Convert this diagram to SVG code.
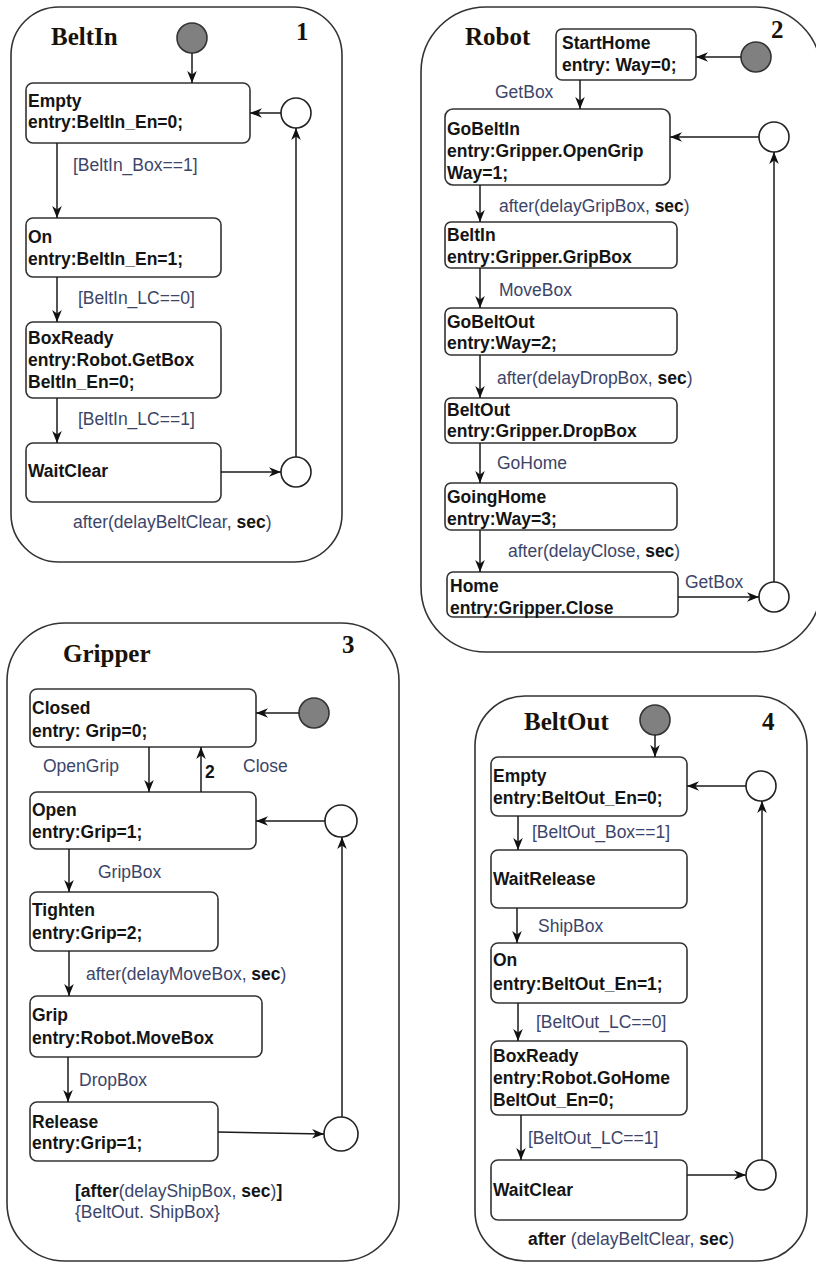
<svg xmlns="http://www.w3.org/2000/svg" width="816" height="1264" viewBox="0 0 816 1264">
<style>
.panel{fill:#fff;stroke:#333;stroke-width:1.6}
.st{fill:#fff;stroke:#333;stroke-width:1.6}
.init{fill:#808080;stroke:#333;stroke-width:1.6}
.junc{fill:#fff;stroke:#222;stroke-width:1.6}
.title{font-family:"Liberation Serif",serif;font-weight:bold;font-size:25px;fill:#1a1208}
.s{font-family:"Liberation Sans",Arial,sans-serif;font-weight:bold;font-size:17.5px;fill:#141414}
.l{font-family:"Liberation Sans",Arial,sans-serif;font-size:17.5px;fill:#3c4569}
.b{font-weight:bold;fill:#141414}
.c{fill:none;stroke:#1a1a1a;stroke-width:1.5;marker-end:url(#a)}
</style>
<defs>
<marker id="a" viewBox="0 0 10 10" refX="10" refY="5" markerWidth="12" markerHeight="12" markerUnits="userSpaceOnUse" orient="auto">
<path d="M0,1 L10,5 L0,9 L3,5 z" fill="#111"/>
</marker>
</defs>

<g id="panel-beltin">
<rect class="panel" x="11" y="7" width="331" height="555" rx="48"/>
<text class="title" x="51" y="45">BeltIn</text>
<text class="title" x="296" y="40">1</text>
<circle class="init" cx="192" cy="38" r="15"/>
<circle class="junc" cx="296" cy="113" r="15"/>
<circle class="junc" cx="296" cy="472" r="15"/>
</g>
<g id="beltin-empty"><rect class="st" x="26" y="83" width="224" height="60" rx="7"/><text class="s" x="28" y="107">Empty</text><text class="s" x="28" y="128">entry:BeltIn_En=0;</text></g>
<g id="beltin-on"><rect class="st" x="26" y="218" width="195" height="59" rx="7"/><text class="s" x="28" y="243">On</text><text class="s" x="28" y="265">entry:BeltIn_En=1;</text></g>
<g id="beltin-boxready"><rect class="st" x="26" y="322" width="195" height="76" rx="7"/><text class="s" x="28" y="344">BoxReady</text><text class="s" x="28" y="366">entry:Robot.GetBox</text><text class="s" x="28" y="388">BeltIn_En=0;</text></g>
<g id="beltin-waitclear"><rect class="st" x="26" y="443" width="195" height="59" rx="7"/><text class="s" x="28" y="477">WaitClear</text></g>

<g id="panel-robot">
<rect class="panel" x="421" y="7" width="400" height="645" rx="65"/>
<text class="title" x="465" y="45">Robot</text>
<text class="title" x="771" y="38">2</text>
<circle class="init" cx="756" cy="57" r="15"/>
<circle class="junc" cx="774" cy="137" r="15"/>
<circle class="junc" cx="774" cy="597" r="15"/>
</g>
<g id="robot-starthome"><rect class="st" x="556" y="29" width="140" height="51" rx="6"/><text class="s" x="562" y="49">StartHome</text><text class="s" x="562" y="71">entry: Way=0;</text></g>
<g id="robot-gobeltin"><rect class="st" x="445" y="109" width="225" height="76" rx="8"/><text class="s" x="447" y="135">GoBeltIn</text><text class="s" x="447" y="157">entry:Gripper.OpenGrip</text><text class="s" x="447" y="179">Way=1;</text></g>
<g id="robot-beltin"><rect class="st" x="445" y="222" width="232" height="46" rx="6"/><text class="s" x="447" y="241">BeltIn</text><text class="s" x="447" y="263">entry:Gripper.GripBox</text></g>
<g id="robot-gobeltout"><rect class="st" x="445" y="308" width="232" height="47" rx="6"/><text class="s" x="447" y="328">GoBeltOut</text><text class="s" x="447" y="349">entry:Way=2;</text></g>
<g id="robot-beltout"><rect class="st" x="445" y="398" width="232" height="45" rx="6"/><text class="s" x="447" y="416">BeltOut</text><text class="s" x="447" y="437">entry:Gripper.DropBox</text></g>
<g id="robot-goinghome"><rect class="st" x="445" y="483" width="232" height="47" rx="6"/><text class="s" x="447" y="503">GoingHome</text><text class="s" x="447" y="525">entry:Way=3;</text></g>
<g id="robot-home"><rect class="st" x="447" y="572" width="231" height="45" rx="6"/><text class="s" x="450" y="592">Home</text><text class="s" x="450" y="614">entry:Gripper.Close</text></g>

<g id="panel-gripper">
<rect class="panel" x="7" y="623" width="392" height="638" rx="58"/>
<text class="title" x="63" y="662">Gripper</text>
<text class="title" x="342" y="653">3</text>
<circle class="init" cx="314" cy="713" r="15"/>
<circle class="junc" cx="341" cy="821" r="16"/>
<circle class="junc" cx="341" cy="1134" r="17"/>
</g>
<g id="gripper-closed"><rect class="st" x="30" y="689" width="226" height="58" rx="7"/><text class="s" x="32" y="714">Closed</text><text class="s" x="32" y="737">entry: Grip=0;</text></g>
<g id="gripper-open"><rect class="st" x="30" y="792" width="226" height="57" rx="7"/><text class="s" x="32" y="816">Open</text><text class="s" x="32" y="838">entry:Grip=1;</text></g>
<g id="gripper-tighten"><rect class="st" x="30" y="892" width="188" height="59" rx="7"/><text class="s" x="32" y="916">Tighten</text><text class="s" x="32" y="939">entry:Grip=2;</text></g>
<g id="gripper-grip"><rect class="st" x="30" y="996" width="232" height="61" rx="7"/><text class="s" x="32" y="1021">Grip</text><text class="s" x="32" y="1044">entry:Robot.MoveBox</text></g>
<g id="gripper-release"><rect class="st" x="30" y="1102" width="188" height="59" rx="7"/><text class="s" x="32" y="1128">Release</text><text class="s" x="32" y="1149">entry:Grip=1;</text></g>

<g id="panel-beltout">
<rect class="panel" x="475" y="696" width="332" height="565" rx="50"/>
<text class="title" x="524" y="730">BeltOut</text>
<text class="title" x="762" y="730">4</text>
<circle class="init" cx="655" cy="720" r="15"/>
<circle class="junc" cx="761" cy="786" r="15"/>
<circle class="junc" cx="761" cy="1175" r="15"/>
</g>
<g id="beltout-empty"><rect class="st" x="491" y="757" width="196" height="59" rx="7"/><text class="s" x="493" y="782">Empty</text><text class="s" x="493" y="804">entry:BeltOut_En=0;</text></g>
<g id="beltout-waitrelease"><rect class="st" x="491" y="850" width="196" height="58" rx="7"/><text class="s" x="493" y="885">WaitRelease</text></g>
<g id="beltout-on"><rect class="st" x="491" y="943" width="196" height="60" rx="7"/><text class="s" x="493" y="966">On</text><text class="s" x="493" y="990">entry:BeltOut_En=1;</text></g>
<g id="beltout-boxready"><rect class="st" x="491" y="1041" width="196" height="74" rx="7"/><text class="s" x="493" y="1062">BoxReady</text><text class="s" x="493" y="1084">entry:Robot.GoHome</text><text class="s" x="493" y="1106">BeltOut_En=0;</text></g>
<g id="beltout-waitclear"><rect class="st" x="491" y="1160" width="196" height="60" rx="7"/><text class="s" x="493" y="1196">WaitClear</text></g>

<g id="connectors">
<line class="c" x1="192" y1="53" x2="192" y2="83"/>
<line class="c" x1="57" y1="143" x2="57" y2="218"/>
<line class="c" x1="57" y1="277" x2="57" y2="322"/>
<line class="c" x1="57" y1="398" x2="57" y2="443"/>
<line class="c" x1="221" y1="472" x2="281" y2="472"/>
<line class="c" x1="296" y1="457" x2="296" y2="128"/>
<line class="c" x1="281" y1="113" x2="250" y2="113"/>
<line class="c" x1="741" y1="57" x2="696" y2="57"/>
<line class="c" x1="580" y1="80" x2="580" y2="109"/>
<line class="c" x1="480" y1="185" x2="480" y2="222"/>
<line class="c" x1="480" y1="268" x2="480" y2="308"/>
<line class="c" x1="480" y1="355" x2="480" y2="398"/>
<line class="c" x1="480" y1="443" x2="480" y2="483"/>
<line class="c" x1="480" y1="530" x2="480" y2="572"/>
<line class="c" x1="678" y1="597" x2="759" y2="597"/>
<line class="c" x1="774" y1="582" x2="774" y2="152"/>
<line class="c" x1="759" y1="137" x2="670" y2="137"/>
<line class="c" x1="299" y1="713" x2="256" y2="713"/>
<line class="c" x1="149" y1="747" x2="149" y2="792"/>
<line class="c" x1="201" y1="792" x2="201" y2="747"/>
<line class="c" x1="325" y1="821" x2="256" y2="821"/>
<line class="c" x1="69" y1="849" x2="69" y2="892"/>
<line class="c" x1="69" y1="951" x2="69" y2="996"/>
<line class="c" x1="68" y1="1057" x2="68" y2="1102"/>
<line class="c" x1="218" y1="1132" x2="324" y2="1134"/>
<line class="c" x1="342" y1="1117" x2="342" y2="837"/>
<line class="c" x1="655" y1="735" x2="655" y2="757"/>
<line class="c" x1="746" y1="786" x2="687" y2="786"/>
<line class="c" x1="518" y1="816" x2="518" y2="850"/>
<line class="c" x1="517" y1="908" x2="517" y2="943"/>
<line class="c" x1="518" y1="1003" x2="518" y2="1041"/>
<line class="c" x1="521" y1="1115" x2="521" y2="1160"/>
<line class="c" x1="687" y1="1175" x2="746" y2="1175"/>
<line class="c" x1="762" y1="1160" x2="762" y2="801"/>
</g>

<g id="labels">
<text class="l" x="73" y="171">[BeltIn_Box==1]</text>
<text class="l" x="78" y="304">[BeltIn_LC==0]</text>
<text class="l" x="78" y="425">[BeltIn_LC==1]</text>
<text class="l" x="73" y="528">after(delayBeltClear, <tspan class="b">sec</tspan>)</text>
<text class="l" x="495" y="98">GetBox</text>
<text class="l" x="499" y="212">after(delayGripBox, <tspan class="b">sec</tspan>)</text>
<text class="l" x="499" y="296">MoveBox</text>
<text class="l" x="497" y="384">after(delayDropBox, <tspan class="b">sec</tspan>)</text>
<text class="l" x="497" y="469">GoHome</text>
<text class="l" x="508" y="557">after(delayClose, <tspan class="b">sec</tspan>)</text>
<text class="l" x="685" y="588">GetBox</text>
<text class="l" x="43" y="772">OpenGrip</text>
<text class="l b" x="205" y="778">2</text>
<text class="l" x="243" y="772">Close</text>
<text class="l" x="98" y="878">GripBox</text>
<text class="l" x="86" y="980">after(delayMoveBox, <tspan class="b">sec</tspan>)</text>
<text class="l" x="79" y="1086">DropBox</text>
<text class="l" x="75" y="1197"><tspan class="b">[after</tspan>(delayShipBox, <tspan class="b">sec</tspan>)<tspan class="b">]</tspan></text>
<text class="l" x="75" y="1218">{BeltOut. ShipBox}</text>
<text class="l" x="532" y="838">[BeltOut_Box==1]</text>
<text class="l" x="538" y="932">ShipBox</text>
<text class="l" x="536" y="1028">[BeltOut_LC==0]</text>
<text class="l" x="528" y="1144">[BeltOut_LC==1]</text>
<text class="l" x="528" y="1245"><tspan class="b">after</tspan> (delayBeltClear, <tspan class="b">sec</tspan>)</text>
</g>
</svg>
